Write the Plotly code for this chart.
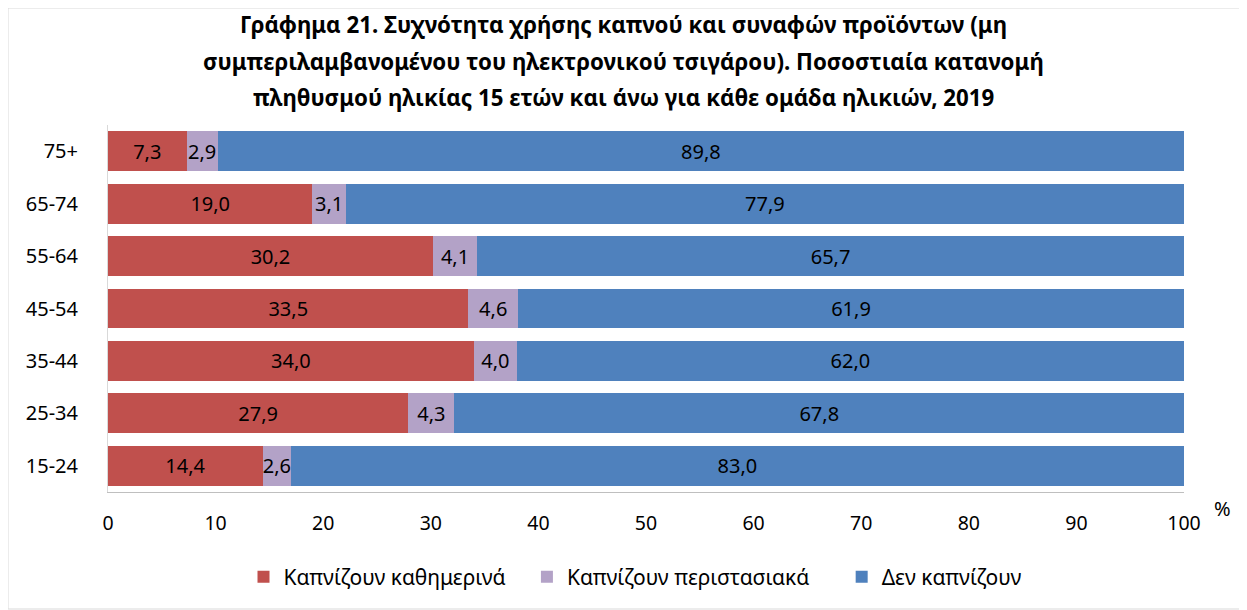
import plotly.graph_objects as go

# Age groups (bottom to top as drawn)
age_groups = ["15-24", "25-34", "35-44", "45-54", "55-64", "65-74", "75+"]

daily = [14.4, 27.9, 34.0, 33.5, 30.2, 19.0, 7.3]
occasional = [2.6, 4.3, 4.0, 4.6, 4.1, 3.1, 2.9]
non_smokers = [83.0, 67.8, 62.0, 61.9, 65.7, 77.9, 89.8]

series_names = ["Καπνίζουν καθημερινά", "Καπνίζουν περιστασιακά", "Δεν καπνίζουν"]
colors = ["#C0504D", "#B3A2C7", "#4F81BD"]

title_lines = [
    "Γράφημα 21. Συχνότητα χρήσης καπνού και συναφών προϊόντων (μη",
    "συμπεριλαμβανομένου του ηλεκτρονικού τσιγάρου). Ποσοστιαία κατανομή",
    "πληθυσμού ηλικίας 15 ετών και άνω για κάθε ομάδα ηλικιών, 2019",
]

FONT = "Noto Sans, sans-serif"
# extra spacing after legend entries (non-breaking spaces)
legend_pad = [3, 5, 0]


def fmt(v):
    return f"{v:.1f}".replace(".", ",")


fig = go.Figure()
for name, vals, col, pad in zip(series_names, [daily, occasional, non_smokers], colors, legend_pad):
    fig.add_trace(go.Bar(
        y=age_groups,
        x=vals,
        name=name + "\u00a0" * pad,
        orientation="h",
        marker=dict(color=col, line=dict(width=0)),
        text=[fmt(v) for v in vals],
        textposition="inside",
        insidetextanchor="middle",
        textfont=dict(size=20, color="#000000", family=FONT),
        textangle=0,
        constraintext="none",
        cliponaxis=False,
    ))

# the page body has an 8px margin, so the figure is 8px smaller and margins shifted
fig.update_layout(
    barmode="stack",
    bargap=0.24,
    width=1239,
    height=602,
    margin=dict(l=100, r=63, t=117, b=118),
    paper_bgcolor="white",
    plot_bgcolor="white",
    font=dict(family=FONT, size=20, color="#000000"),
    showlegend=True,
    legend=dict(
        orientation="h",
        traceorder="normal",
        x=(635 - 108) / 1076, xanchor="center",
        y=-0.232, yanchor="middle",
        font=dict(size=21, family=FONT),
        itemwidth=30,
    ),
    xaxis=dict(
        range=[0, 100],
        dtick=10,
        showgrid=False,
        zeroline=False,
        showline=True,
        linecolor="#BFBFBF",
        linewidth=1,
        ticks="",
        ticklabelstandoff=14,
        tickfont=dict(size=19.5, family=FONT),
    ),
    yaxis=dict(
        showgrid=False,
        showline=True,
        linecolor="#D9D9D9",
        linewidth=1,
        ticks="",
        ticklabelstandoff=25,
        tickfont=dict(size=20, family=FONT),
    ),
)

# title lines (paper coords derived from page pixel rows)
title_y = [24, 61, 98]
for line, py in zip(title_lines, title_y):
    fig.add_annotation(
        text="<b>" + line + "</b>",
        xref="paper", yref="paper",
        x=(623 - 108) / 1076, y=(492 - py) / 367,
        xanchor="center", yanchor="middle",
        showarrow=False,
        font=dict(size=22.3, family=FONT, color="#000000"),
    )

fig.add_annotation(
    text="%", xref="paper", yref="paper",
    x=(1222 - 108) / 1076, y=(492 - 509) / 367,
    xanchor="center", yanchor="middle", showarrow=False,
    font=dict(size=20, family=FONT),
)

# outer frame
fig.add_shape(
    type="rect", xref="paper", yref="paper",
    x0=-100 / 1076, x1=(1246 - 108) / 1076,
    y0=(492 - 609) / 367, y1=(492 - 8) / 367,
    line=dict(color="#D9D9D9", width=1),
)

fig.write_html("out.html")
